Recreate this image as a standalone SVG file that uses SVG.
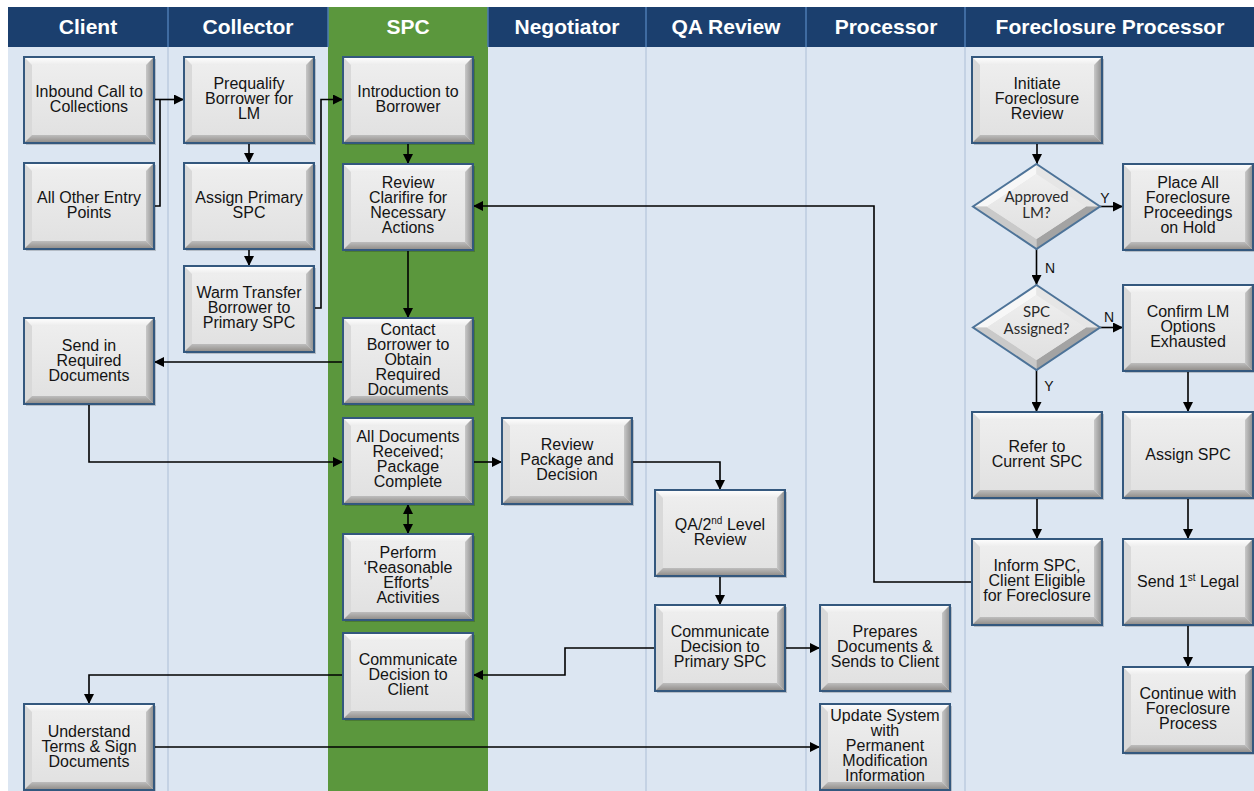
<svg xmlns="http://www.w3.org/2000/svg" xmlns:xlink="http://www.w3.org/1999/xlink" width="1254" height="791" viewBox="0 0 1254 791">
<style>
.hd{font-family:"Liberation Sans",Arial,sans-serif;font-weight:bold;font-size:21px;fill:#ffffff;text-anchor:middle}
.t{font-family:"Liberation Sans",Arial,sans-serif;font-size:16px;fill:#141414;text-anchor:middle}
.dt{font-family:Lato,"Liberation Sans",sans-serif;font-size:15px;fill:#2a2a2a;text-anchor:middle}
.yn{font-family:"Liberation Sans",Arial,sans-serif;font-size:14px;fill:#111;text-anchor:middle}
.c{fill:none;stroke:#000;stroke-width:1.6}
.a{marker-end:url(#ah)}
.sup{font-size:10px}
</style>
<defs>
<marker id="ah" viewBox="0 0 10 10" refX="10" refY="5" markerWidth="10" markerHeight="10" markerUnits="userSpaceOnUse" orient="auto-start-reverse">
<path d="M0,0 L10,5 L0,10 z" fill="#000"/>
</marker>
<linearGradient id="face" x1="0" y1="0" x2="0" y2="1">
<stop offset="0" stop-color="#efefef"/>
<stop offset="1" stop-color="#e0e0e0"/>
</linearGradient>
<linearGradient id="topb" x1="0" y1="0" x2="0" y2="1">
<stop offset="0" stop-color="#ffffff"/>
<stop offset="1" stop-color="#ececec"/>
</linearGradient>
<linearGradient id="botb" x1="0" y1="0" x2="0" y2="1">
<stop offset="0" stop-color="#bdbdbd"/>
<stop offset="1" stop-color="#8e8a86"/>
</linearGradient>
<linearGradient id="rb" x1="0" y1="0" x2="1" y2="0">
<stop offset="0" stop-color="#c8c8c8"/>
<stop offset="1" stop-color="#8c8c8c"/>
</linearGradient>
<g id="box">
<rect x="2" y="2" width="130" height="86" fill="#000" opacity="0.18"/>
<rect x="0" y="0" width="130" height="86" fill="url(#face)"/>
<polygon points="0,0 130,0 122,8 8,8" fill="url(#topb)"/>
<polygon points="0,0 8,8 8,78 0,86" fill="#d9d9d9"/>
<polygon points="130,0 130,86 122,78 122,8" fill="url(#rb)"/>
<polygon points="0,86 8,78 122,78 130,86" fill="url(#botb)"/>
<rect x="0" y="0" width="130" height="86" fill="none" stroke="#34587e" stroke-width="2"/>
</g>
<g id="dia">
<polygon points="63.5,0 127,42.5 63.5,85 0,42.5" fill="#e3e3e3"/>
<polygon points="63.5,0 0,42.5 14,42.5 63.5,10" fill="#f7f7f7"/>
<polygon points="63.5,0 127,42.5 113,42.5 63.5,10" fill="#e6e6e6"/>
<polygon points="0,42.5 63.5,85 63.5,75 14,42.5" fill="#c9c9c9"/>
<polygon points="127,42.5 63.5,85 63.5,75 113,42.5" fill="#a3a3a3"/>
<polygon points="63.5,10 113,42.5 63.5,75 14,42.5" fill="url(#face)"/>
<polygon points="63.5,0 127,42.5 63.5,85 0,42.5" fill="none" stroke="#4d7398" stroke-width="2"/>
</g>
</defs>

<g id="lanes">
<rect x="8" y="47" width="1246" height="744" fill="#dce6f2"/>
<rect x="328" y="47" width="160" height="744" fill="#5b973d"/>
<g stroke="#c4d2e4" stroke-width="2">
<line x1="168" y1="47" x2="168" y2="791"/>
<line x1="646" y1="47" x2="646" y2="791"/>
<line x1="806" y1="47" x2="806" y2="791"/>
<line x1="965" y1="47" x2="965" y2="791"/>
</g>
</g>

<g id="header">
<rect x="8" y="7" width="1246" height="40" fill="#1b3f6e"/>
<rect x="328" y="7" width="160" height="40" fill="#5b973d"/>
<g stroke="#4c7bb3" stroke-width="1.5">
<line x1="168" y1="7" x2="168" y2="47"/>
<line x1="328" y1="7" x2="328" y2="47"/>
<line x1="488" y1="7" x2="488" y2="47"/>
<line x1="646" y1="7" x2="646" y2="47"/>
<line x1="806" y1="7" x2="806" y2="47"/>
<line x1="965" y1="7" x2="965" y2="47"/>
</g>
<text class="hd" x="88" y="34">Client</text>
<text class="hd" x="248" y="34">Collector</text>
<text class="hd" x="408" y="34">SPC</text>
<text class="hd" x="567" y="34">Negotiator</text>
<text class="hd" x="726" y="34">QA Review</text>
<text class="hd" x="886" y="34">Processor</text>
<text class="hd" x="1110" y="34">Foreclosure Processor</text>
</g>

<g id="connectors">
<path class="c a" d="M154,99.5 H184"/>
<path class="c" d="M154,206 H160 V99.5"/>
<path class="c a" d="M249,143 V163"/>
<path class="c a" d="M249,249 V266"/>
<path class="c a" d="M313,308 H321 V99.5 H343"/>
<path class="c a" d="M408,143 V164"/>
<path class="c a" d="M408,250 V318"/>
<path class="c a" d="M343,362 H154"/>
<path class="c a" d="M89,404 V462 H343"/>
<path class="c a" d="M473,462 H502"/>
<path class="c a" d="M632,462 H720 V490"/>
<path class="c" d="M408,504 V534" marker-start="url(#ah)" marker-end="url(#ah)"/>
<path class="c a" d="M720,576 V605"/>
<path class="c a" d="M655,648 H565 V675 H473"/>
<path class="c a" d="M785,648 H820"/>
<path class="c a" d="M343,675 H89 V704"/>
<path class="c a" d="M154,747 H820"/>
<path class="c a" d="M972,582 H874 V206 H473"/>
<path class="c a" d="M1037,143 V164"/>
<path class="c a" d="M1100,206.5 H1123"/>
<path class="c a" d="M1036.5,249 V285"/>
<path class="c a" d="M1100,327.5 H1123"/>
<path class="c a" d="M1036.5,370 V412"/>
<path class="c a" d="M1188,371 V412"/>
<path class="c a" d="M1037,498 V539"/>
<path class="c a" d="M1188,498 V539"/>
<path class="c a" d="M1188,625 V667"/>
<text class="yn" x="1105" y="203">Y</text>
<text class="yn" x="1050" y="273">N</text>
<text class="yn" x="1109" y="322">N</text>
<text class="yn" x="1049" y="391">Y</text>
</g>

<g id="n_inbound"><use href="#box" x="24" y="57"/><text class="t" x="89" y="97">Inbound Call to</text><text class="t" x="89" y="112">Collections</text></g>
<g id="n_allother"><use href="#box" x="24" y="163"/><text class="t" x="89" y="203">All Other Entry</text><text class="t" x="89" y="218">Points</text></g>
<g id="n_sendin"><use href="#box" x="24" y="318"/><text class="t" x="89" y="351">Send in</text><text class="t" x="89" y="366">Required</text><text class="t" x="89" y="381">Documents</text></g>
<g id="n_understand"><use href="#box" x="24" y="704"/><text class="t" x="89" y="737">Understand</text><text class="t" x="89" y="752">Terms &amp; Sign</text><text class="t" x="89" y="767">Documents</text></g>

<g id="n_prequal"><use href="#box" x="184" y="57"/><text class="t" x="249" y="89">Prequalify</text><text class="t" x="249" y="104">Borrower for</text><text class="t" x="249" y="119">LM</text></g>
<g id="n_assign"><use href="#box" x="184" y="163"/><text class="t" x="249" y="203">Assign Primary</text><text class="t" x="249" y="218">SPC</text></g>
<g id="n_warm"><use href="#box" x="184" y="266"/><text class="t" x="249" y="298">Warm Transfer</text><text class="t" x="249" y="313">Borrower to</text><text class="t" x="249" y="328">Primary SPC</text></g>

<g id="n_intro"><use href="#box" x="343" y="57"/><text class="t" x="408" y="97">Introduction to</text><text class="t" x="408" y="112">Borrower</text></g>
<g id="n_clarifire"><use href="#box" x="343" y="164"/><text class="t" x="408" y="188">Review</text><text class="t" x="408" y="203">Clarifire for</text><text class="t" x="408" y="218">Necessary</text><text class="t" x="408" y="233">Actions</text></g>
<g id="n_contact"><use href="#box" x="343" y="318"/><text class="t" x="408" y="335">Contact</text><text class="t" x="408" y="350">Borrower to</text><text class="t" x="408" y="365">Obtain</text><text class="t" x="408" y="380">Required</text><text class="t" x="408" y="395">Documents</text></g>
<g id="n_alldocs"><use href="#box" x="343" y="418"/><text class="t" x="408" y="442">All Documents</text><text class="t" x="408" y="457">Received;</text><text class="t" x="408" y="472">Package</text><text class="t" x="408" y="487">Complete</text></g>
<g id="n_perform"><use href="#box" x="343" y="534"/><text class="t" x="408" y="558">Perform</text><text class="t" x="408" y="573">‘Reasonable</text><text class="t" x="408" y="588">Efforts’</text><text class="t" x="408" y="603">Activities</text></g>
<g id="n_commclient"><use href="#box" x="343" y="633"/><text class="t" x="408" y="665">Communicate</text><text class="t" x="408" y="680">Decision to</text><text class="t" x="408" y="695">Client</text></g>

<g id="n_reviewpkg"><use href="#box" x="502" y="418"/><text class="t" x="567" y="450">Review</text><text class="t" x="567" y="465">Package and</text><text class="t" x="567" y="480">Decision</text></g>

<g id="n_qa"><use href="#box" x="655" y="490"/><text class="t" x="720" y="530">QA/2<tspan class="sup" dy="-6">nd</tspan><tspan dy="6"> Level</tspan></text><text class="t" x="720" y="545">Review</text></g>
<g id="n_commprimary"><use href="#box" x="655" y="605"/><text class="t" x="720" y="637">Communicate</text><text class="t" x="720" y="652">Decision to</text><text class="t" x="720" y="667">Primary SPC</text></g>

<g id="n_prepares"><use href="#box" x="820" y="605"/><text class="t" x="885" y="637">Prepares</text><text class="t" x="885" y="652">Documents &amp;</text><text class="t" x="885" y="667">Sends to Client</text></g>
<g id="n_update"><use href="#box" x="820" y="704"/><text class="t" x="885" y="721">Update System</text><text class="t" x="885" y="736">with</text><text class="t" x="885" y="751">Permanent</text><text class="t" x="885" y="766">Modification</text><text class="t" x="885" y="781">Information</text></g>

<g id="n_initiate"><use href="#box" x="972" y="57"/><text class="t" x="1037" y="89">Initiate</text><text class="t" x="1037" y="104">Foreclosure</text><text class="t" x="1037" y="119">Review</text></g>
<g id="d_approved"><use href="#dia" x="973" y="164"/><text class="dt" x="1036.5" y="202">Approved</text><text class="dt" x="1036.5" y="218">LM?</text></g>
<g id="n_place"><use href="#box" x="1123" y="164"/><text class="t" x="1188" y="188">Place All</text><text class="t" x="1188" y="203">Foreclosure</text><text class="t" x="1188" y="218">Proceedings</text><text class="t" x="1188" y="233">on Hold</text></g>
<g id="d_spc"><use href="#dia" x="973" y="285"/><text class="dt" x="1036.5" y="317">SPC</text><text class="dt" x="1036.5" y="334">Assigned?</text></g>
<g id="n_confirm"><use href="#box" x="1123" y="285"/><text class="t" x="1188" y="317">Confirm LM</text><text class="t" x="1188" y="332">Options</text><text class="t" x="1188" y="347">Exhausted</text></g>
<g id="n_refer"><use href="#box" x="972" y="412"/><text class="t" x="1037" y="452">Refer to</text><text class="t" x="1037" y="467">Current SPC</text></g>
<g id="n_assignspc"><use href="#box" x="1123" y="412"/><text class="t" x="1188" y="460">Assign SPC</text></g>
<g id="n_inform"><use href="#box" x="972" y="539"/><text class="t" x="1037" y="571">Inform SPC,</text><text class="t" x="1037" y="586">Client Eligible</text><text class="t" x="1037" y="601">for Foreclosure</text></g>
<g id="n_send"><use href="#box" x="1123" y="539"/><text class="t" x="1188" y="587">Send 1<tspan class="sup" dy="-6">st</tspan><tspan dy="6"> Legal</tspan></text></g>
<g id="n_continue"><use href="#box" x="1123" y="667"/><text class="t" x="1188" y="699">Continue with</text><text class="t" x="1188" y="714">Foreclosure</text><text class="t" x="1188" y="729">Process</text></g>
</svg>
